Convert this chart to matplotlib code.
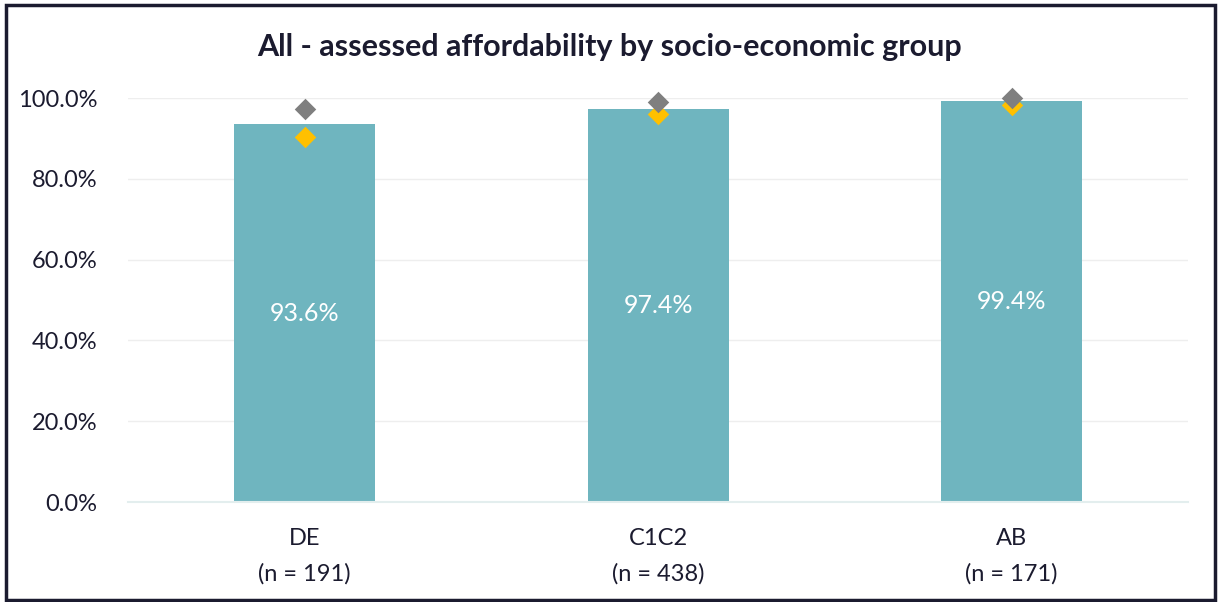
import matplotlib
matplotlib.use("Agg")
from matplotlib import pyplot as plt
from matplotlib.patches import Rectangle

plt.rcParams['font.family'] = ['Lato', 'DejaVu Sans']

groups = ["DE", "C1C2", "AB"]
sample_sizes = [191, 438, 171]
affordability = [93.6, 97.4, 99.4]
marker_grey = [97.3, 99.0, 100.0]
marker_yellow = [90.3, 96.0, 98.3]

bar_colour = "#6FB5BF"
text_colour = "#1B1B2F"

fig = plt.figure(figsize=(12.2, 6.02), dpi=100)
ax = fig.add_axes([0.105, 0.166, 0.869, 0.671])

x = list(range(len(groups)))
ax.bar(x, affordability, width=0.4, color=bar_colour, zorder=2)
for xi, v in zip(x, affordability):
    ax.text(xi, v / 2, f"{v:.1f}%", ha="center", va="center",
            color="white", fontsize=18, zorder=3)

ax.scatter(x, marker_grey, marker="D", s=120, color="#7F7F7F", zorder=4,
           linewidths=0, clip_on=False)
ax.scatter(x, marker_yellow, marker="D", s=120, color="#FFC000", zorder=3,
           linewidths=0, clip_on=False)

ax.set_xlim(-0.5, 2.5)
ax.set_ylim(0, 100)
ax.set_yticks(range(0, 101, 20))
ax.set_yticklabels([f"{t:.1f}%" for t in range(0, 101, 20)])
ax.set_xticks(x)
ax.set_xticklabels([f"{g}\n(n = {n})" for g, n in zip(groups, sample_sizes)],
                   linespacing=1.75)
ax.tick_params(length=0, labelsize=17, colors=text_colour)
ax.tick_params(axis="y", pad=22)
ax.tick_params(axis="x", pad=19)
ax.grid(axis="y", color="#EEEEEE", linewidth=1, zorder=0)
for side in ["top", "right", "left"]:
    ax.spines[side].set_visible(False)
ax.spines["bottom"].set_color("#E3EEEE")
ax.spines["bottom"].set_linewidth(1.5)

fig.text(0.5, 0.922, "All - assessed affordability by socio-economic group",
         ha="center", va="center", fontsize=22, fontweight="bold", color=text_colour)

# frame around the whole chart
fig.patches.append(Rectangle((0.005, 0.004), 0.991, 0.988, transform=fig.transFigure,
                             fill=False, edgecolor="#1B1B2F", linewidth=2.5))

fig.savefig("out.png", dpi=100, facecolor="white")
